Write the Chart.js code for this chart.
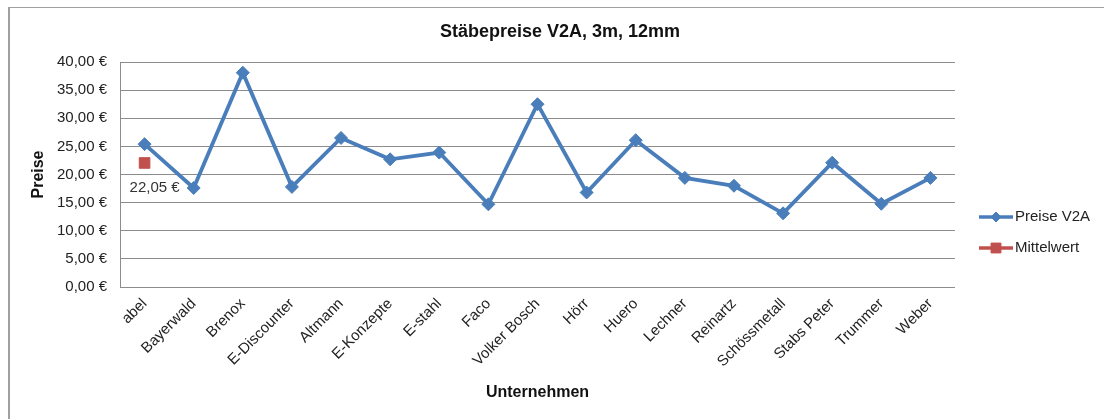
<!DOCTYPE html>
<html>
<head>
<meta charset="utf-8">
<script src="https://cdn.jsdelivr.net/npm/chart.js@4/dist/chart.umd.min.js"></script>
<style>
  body { margin: 0; background: #fff; }
  #wrap { position: relative; width: 1104px; height: 419px; }
</style>
</head>
<body>
<div id="wrap"><canvas id="chart_canvas"></canvas></div>
<script>
//DATA
var companies = ["abel", "Bayerwald", "Brenox", "E-Discounter", "Altmann", "E-Konzepte", "E-stahl", "Faco",
    "Volker Bosch", "Hörr", "Huero", "Lechner", "Reinartz", "Schössmetall", "Stabs Peter", "Trummer", "Weber"];
var pricesV2A = [25.4, 17.6, 38.1, 17.8, 26.5, 22.7, 23.9, 14.7, 32.5, 16.8, 26.1, 19.4, 18.0, 13.1, 22.1, 14.8, 19.4];
var meanValue = [22.05]; //only shown at first category
var yTicks = [0, 5, 10, 15, 20, 25, 30, 35, 40];

var titleText = "Stäbepreise V2A, 3m, 12mm";
var xTitle = "Unternehmen";
var yTitle = "Preise";

var fontFamily = "'Liberation Sans', Arial, sans-serif";
var blue = "#4a7ebb";
var red = "#c0504d";

function euro(v) {
    return v.toFixed(2).replace('.', ',') + ' €';
}

//frame around the whole chart (left and top edges are visible)
var framePlugin = {
    id: 'frame',
    beforeDraw: function(chart) {
        var ctx = chart.ctx;
        ctx.save();
        ctx.fillStyle = '#fff';
        ctx.fillRect(0, 0, chart.width, chart.height);
        ctx.strokeStyle = '#a0a0a0';
        ctx.lineWidth = 2;
        ctx.beginPath();
        ctx.moveTo(9, chart.height);
        ctx.lineTo(9, 7.5);
        ctx.stroke();
        ctx.lineWidth = 1;
        ctx.beginPath();
        ctx.moveTo(8, 7.5);
        ctx.lineTo(chart.width, 7.5);
        ctx.stroke();
        ctx.restore();
    }
};

//data label under the mean marker
var meanLabelPlugin = {
    id: 'meanLabel',
    afterDatasetsDraw: function(chart) {
        var meta = chart.getDatasetMeta(1);
        var pt = meta.data[0];
        if (!pt) return;
        var ctx = chart.ctx;
        ctx.save();
        ctx.font = "15px " + fontFamily;
        ctx.fillStyle = '#333';
        ctx.textAlign = 'left';
        ctx.textBaseline = 'middle';
        ctx.fillText(euro(meanValue[0]), pt.x - 15, pt.y + 25);
        ctx.restore();
    }
};

//legend on the right side, line + marker like the spreadsheet legend
var sideLegendPlugin = {
    id: 'sideLegend',
    afterDraw: function(chart) {
        var ctx = chart.ctx;
        var x0 = 979, x1 = 1013;
        var ys = [217, 248];
        ctx.save();
        chart.data.datasets.forEach(function(ds, i) {
            var y = ys[i];
            ctx.strokeStyle = ds.borderColor;
            ctx.fillStyle = ds.backgroundColor;
            ctx.lineWidth = 3.5;
            ctx.beginPath();
            ctx.moveTo(x0, y);
            ctx.lineTo(x1, y);
            ctx.stroke();
            ctx.lineWidth = 1;
            Chart.helpers.drawPoint(ctx, {
                pointStyle: ds.pointStyle,
                radius: ds.legendRadius,
                borderWidth: 1
            }, (x0 + x1) / 2, y);
            ctx.fillStyle = '#222';
            ctx.font = "15px " + fontFamily;
            ctx.textAlign = 'left';
            ctx.textBaseline = 'middle';
            ctx.fillText(ds.label, x1 + 2, y);
        });
        ctx.restore();
    }
};

var ctx = document.getElementById("chart_canvas").getContext('2d');
var chart = new Chart(ctx, {
    type: 'line',
    data: {
        labels: companies,
        datasets: [{
            label: "Preise V2A",
            data: pricesV2A,
            borderColor: blue,
            backgroundColor: blue,
            borderWidth: 3.8,
            pointStyle: 'rectRot',
            pointRadius: 6.5,
            pointBorderWidth: 1,
            legendRadius: 5,
            tension: 0
        }, {
            label: "Mittelwert",
            data: meanValue,
            borderColor: red,
            backgroundColor: red,
            showLine: false,
            pointStyle: 'rect',
            pointRadius: 7.5,
            pointBorderWidth: 1,
            legendRadius: 7
        }]
    },
    options: {
        responsive: true,
        maintainAspectRatio: false,
        animation: false,
        layout: { padding: { left: 16, right: 0, top: 0, bottom: 0 } },
        plugins: {
            legend: { display: false },
            tooltip: { enabled: false },
            title: {
                display: true,
                text: titleText,
                color: '#111',
                font: { family: fontFamily, size: 18, weight: 'bold' },
                padding: { top: 21, bottom: 19.4 }
            }
        },
        scales: {
            x: {
                offset: true,
                grid: { display: false, drawTicks: false },
                border: { display: false },
                ticks: {
                    color: '#222',
                    font: { family: fontFamily, size: 15 },
                    maxRotation: 45,
                    minRotation: 45,
                    autoSkip: false,
                    padding: 8
                },
                title: {
                    display: true,
                    text: xTitle,
                    color: '#111',
                    font: { family: fontFamily, size: 16, weight: 'bold' },
                    padding: { top: 4, bottom: 16.4 }
                },
                afterFit: function(scale) {
                    scale.height = 132;
                }
            },
            y: {
                min: 0,
                max: 40,
                afterBuildTicks: function(scale) {
                    scale.ticks = yTicks.map(function(v) { return { value: v }; });
                },
                grid: { color: '#8c8c8c', lineWidth: 1, drawTicks: false },
                border: { display: true, color: '#8c8c8c', width: 1 },
                ticks: {
                    color: '#222',
                    font: { family: fontFamily, size: 15 },
                    padding: 13,
                    callback: function(v) { return euro(v); }
                },
                title: {
                    display: true,
                    text: yTitle,
                    color: '#111',
                    font: { family: fontFamily, size: 16, weight: 'bold' },
                    padding: { top: 13.4, bottom: 0 }
                },
                afterFit: function(scale) {
                    scale.width = 104;
                }
            },
            //empty space on the right that holds the legend
            yRight: {
                position: 'right',
                min: 0,
                max: 40,
                grid: { display: false, drawTicks: false },
                border: { display: false },
                ticks: { display: false },
                afterFit: function(scale) {
                    scale.width = 149;
                }
            }
        }
    },
    plugins: [framePlugin, meanLabelPlugin, sideLegendPlugin]
});
</script>
</body>
</html>
